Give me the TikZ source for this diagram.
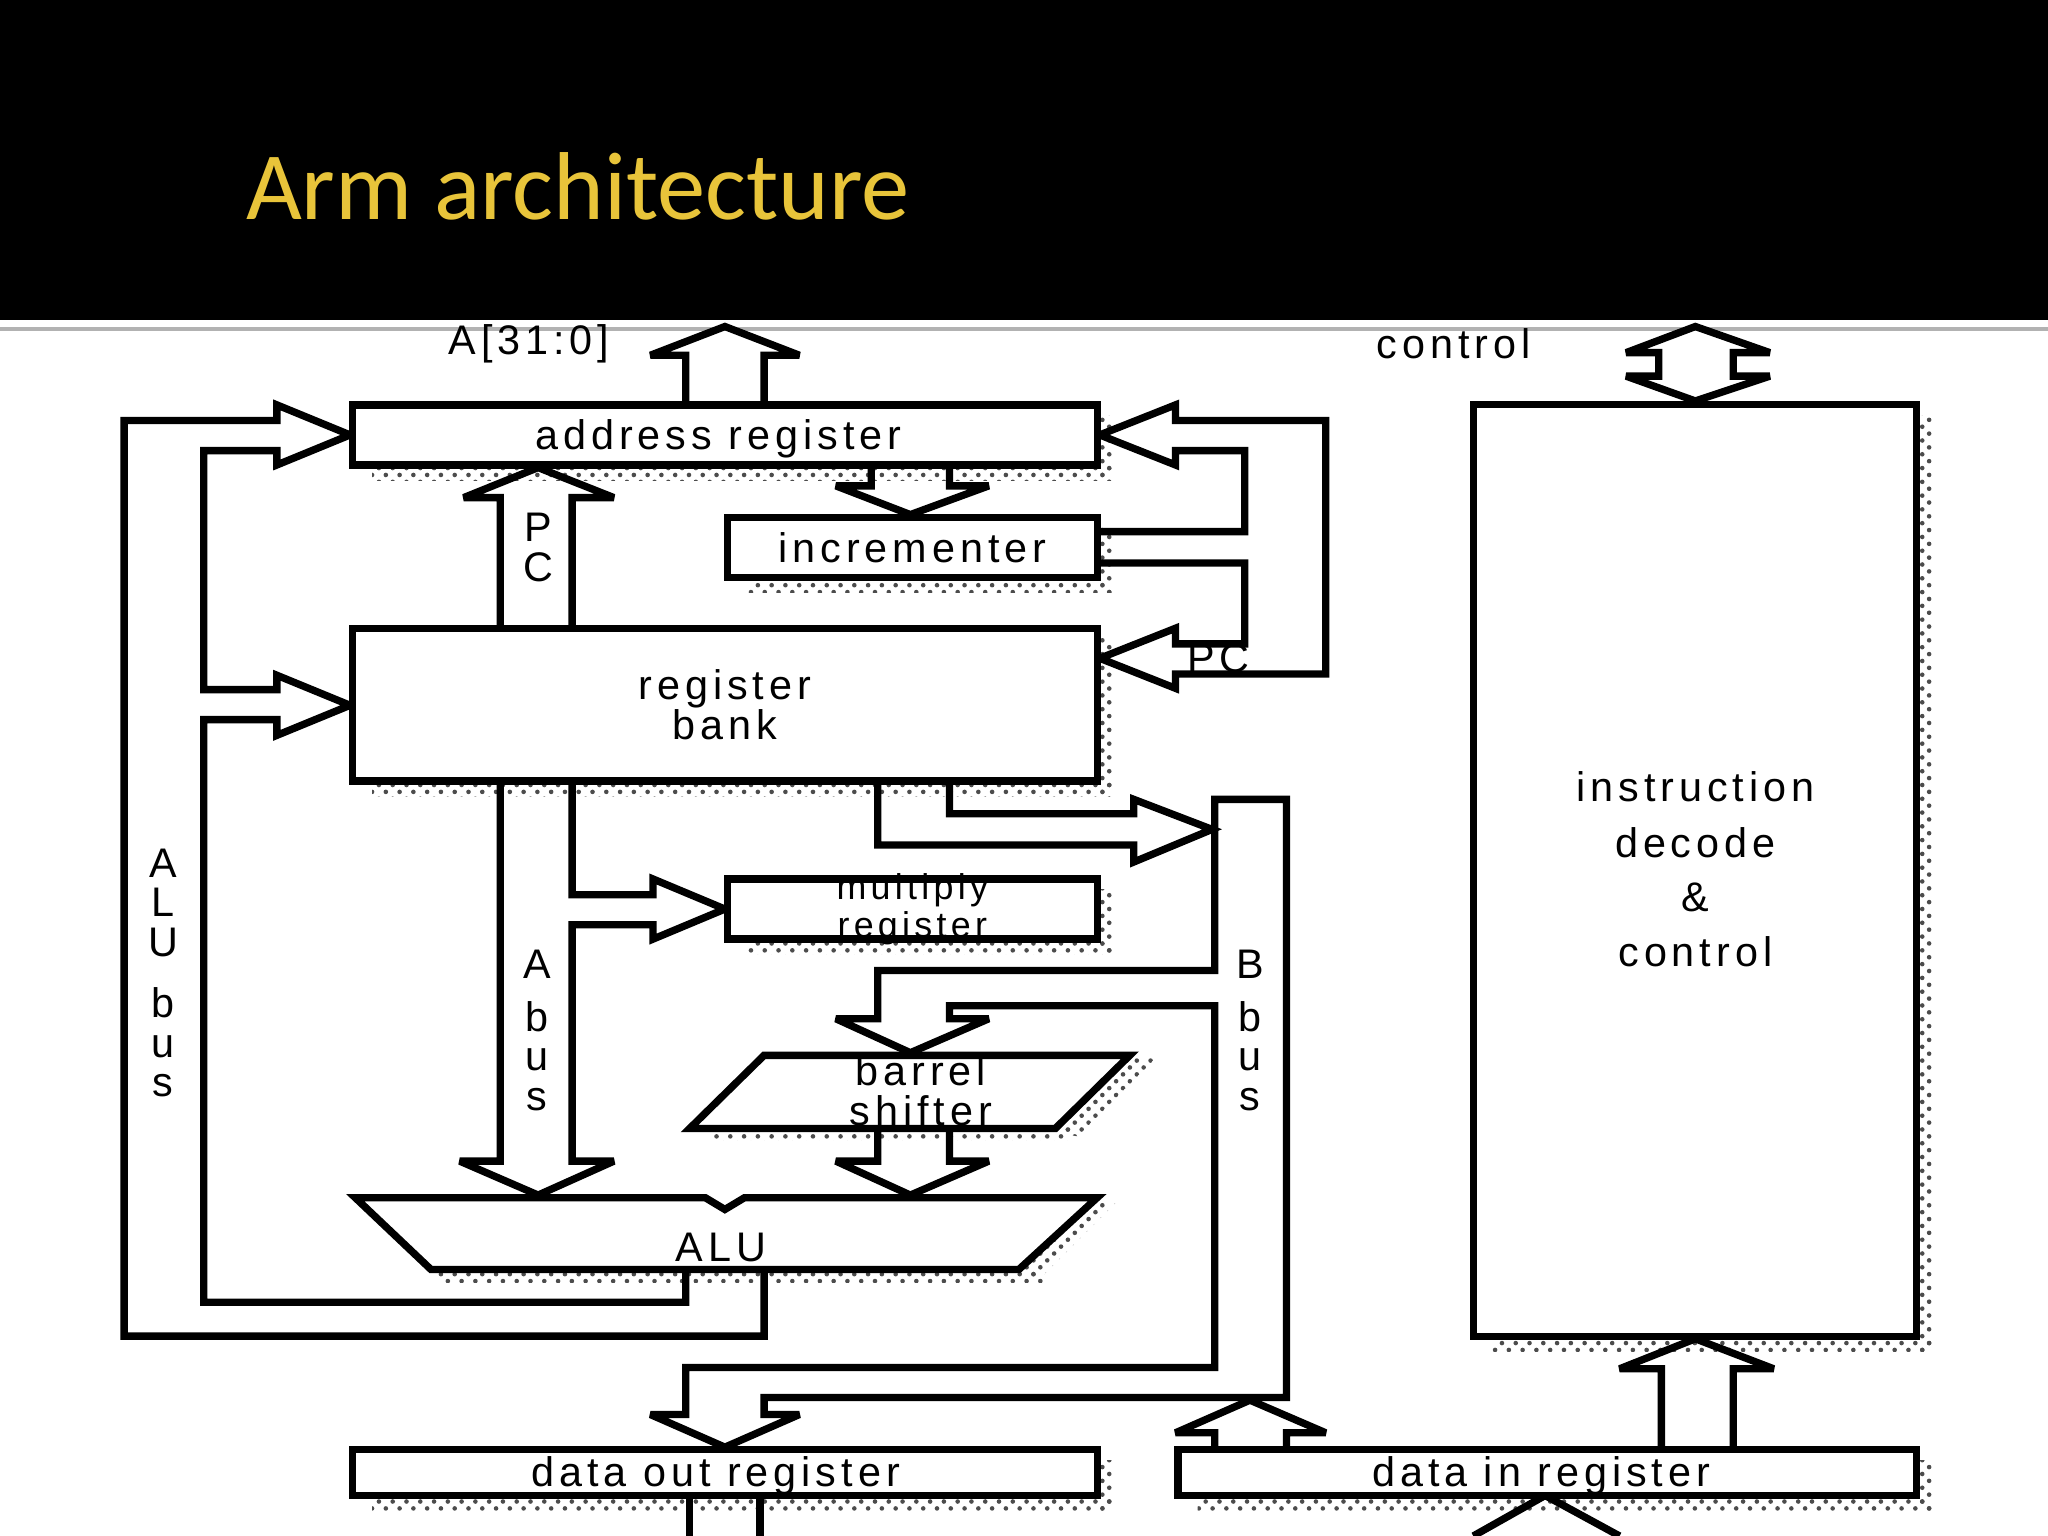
\documentclass[tikz,border=0pt]{standalone}
\usepackage{fontspec}
\setmainfont{Liberation Sans}
\newfontfamily\spaced[LetterSpace=12]{Liberation Sans}
\newfontfamily\titlefont{Carlito}
\usetikzlibrary{patterns}
\definecolor{titlegold}{HTML}{E8C43A}
\tikzset{
  blk/.style={draw=black, line width=1.6pt, fill=white},
  bus/.style={draw=black, line width=1.6pt, line join=miter, miter limit=4},
  lbl/.style={font=\spaced\fontsize{9}{8.6}\selectfont, align=center, inner sep=0pt},
  small/.style={font=\spaced\fontsize{7.8}{7.2}\selectfont}
  ,shd/.style={pattern=crosshatch dots, pattern color=black!70, draw=none}
}
% dotted drop shadow right and below a box
\newcommand{\dropshade}[4]{%
  \fill[shd] (#3+3,#2+8) rectangle (#3+12,#4+12);
  \fill[shd] (#1+15,#4+3) rectangle (#3+12,#4+12);}

\begin{document}
\begin{tikzpicture}[x=0.01cm,y=-0.01cm]
  \useasboundingbox (0,0) rectangle (1568,1176);
  % title bar
  \fill[black] (0,0) rectangle (1568,245);
  \draw[gray!60, line width=1pt] (0,252) -- (1568,252);
  \node[font=\titlefont\fontsize{21}{21}\selectfont, text=titlegold, anchor=west] (title) at (176,143) {Arm architecture};

  % shadows
  \dropshade{270}{310}{840}{356}
  \dropshade{557}{396}{840}{442}
  \dropshade{270}{481}{840}{598}
  \dropshade{557}{673}{840}{719}
  \dropshade{270}{1110}{840}{1145}
  \dropshade{902}{1110}{1467}{1145}
  \dropshade{1128}{310}{1467}{1023}
  \fill[shd] (808,867) -- (868,810) -- (885,810) -- (825,870) -- cycle;
  \fill[shd] (545,864) rectangle (820,873);
  \fill[shd] (780,975) -- (840,920) -- (855,920) -- (795,980) -- cycle;
  \fill[shd] (335,973) rectangle (800,982);

  % buses
  \draw[bus] (525,310) -- (525,272) -- (498,272) -- (555,250) -- (612,272) -- (585,272) -- (585,310);
  \draw[bus] (1270,288) -- (1270,270) -- (1245,270) -- (1298,250) -- (1355,270) -- (1327,270) -- (1327,288)
    -- (1355,288) -- (1298,307) -- (1245,288) -- cycle;
  \draw[bus] (667,356) -- (667,372) -- (640,372) -- (697,394) -- (757,372) -- (727,372) -- (727,356);
  \draw[bus] (383,481) -- (383,381) -- (355,381) -- (412,358) -- (470,381) -- (438,381) -- (438,481);
  \draw[bus] (840,407) -- (953,407) -- (953,345) -- (900,345) -- (900,356) -- (842,333) -- (900,310)
    -- (900,322) -- (1015,322) -- (1015,516) -- (900,516) -- (900,527) -- (842,504) -- (900,481)
    -- (900,493) -- (953,493) -- (953,431) -- (840,431);
  \draw[bus] (525,972) -- (525,997) -- (156,997) -- (156,551) -- (212,551) -- (212,563) -- (268,540)
    -- (212,517) -- (212,528) -- (156,528) -- (156,345) -- (212,345) -- (212,356) -- (268,333)
    -- (212,310) -- (212,322) -- (95,322) -- (95,1023) -- (585,1023) -- (585,972);
  \draw[bus] (383,598) -- (383,889) -- (352,889) -- (412,915) -- (470,889) -- (438,889) -- (438,708)
    -- (500,708) -- (500,719) -- (555,696) -- (500,673) -- (500,685) -- (438,685) -- (438,598);
  \draw[bus] (672,598) -- (672,647) -- (868,647) -- (868,660) -- (928,635) -- (868,612) -- (868,623)
    -- (727,623) -- (727,598);
  \draw[bus] (930,612) -- (985,612) -- (985,1070) -- (585,1070) -- (585,1083) -- (612,1083)
    -- (555,1108) -- (498,1083) -- (525,1083) -- (525,1047) -- (930,1047) -- (930,770) -- (727,770)
    -- (727,780) -- (757,780) -- (697,806) -- (640,780) -- (672,780) -- (672,743) -- (930,743) -- cycle;
  \draw[bus] (672,864) -- (672,889) -- (640,889) -- (697,915) -- (757,889) -- (727,889) -- (727,864);
  \draw[bus] (930,1110) -- (930,1097) -- (900,1097) -- (957,1072) -- (1015,1097) -- (985,1097) -- (985,1110);
  \draw[bus] (1272,1110) -- (1272,1048) -- (1240,1048) -- (1298,1025) -- (1358,1048) -- (1327,1048) -- (1327,1110);
  \draw[bus] (528,1176) -- (528,1145) (582,1145) -- (582,1176);
  \draw[bus] (1128,1176) -- (1183,1145) -- (1240,1176);

  % blocks
  \node[blk, minimum width=5.70cm, minimum height=0.46cm] (addr) at (555,333) {};
  \node[blk, minimum width=2.83cm, minimum height=0.46cm] (inc) at (698.5,419) {};
  \node[blk, minimum width=5.70cm, minimum height=1.17cm] (bank) at (555,539.5) {};
  \node[blk, minimum width=2.83cm, minimum height=0.46cm] (mult) at (698.5,696) {};
  \node[blk, minimum width=5.70cm, minimum height=0.35cm] (dout) at (555,1127.5) {};
  \node[blk, minimum width=5.65cm, minimum height=0.35cm] (din) at (1184.5,1127.5) {};
  \node[blk, minimum width=3.39cm, minimum height=7.13cm] (dec) at (1297.5,666.5) {};
  \draw[blk] (585,808) -- (865,808) -- (808,864) -- (528,864) -- cycle;
  \draw[blk] (272,917) -- (540,917) -- (555,926) -- (570,917) -- (840,917) -- (780,972) -- (330,972) -- cycle;
  \coordinate (shift) at (705,835);
  \coordinate (alu) at (552,955);

  % labels
  \node[lbl] at (550,336) {address register};
  \node[lbl] at (inc) {incrementer};
  \node[lbl] at (bank) {register\\bank};
  \node[lbl, small] at (mult) {multiply\\register};
  \node[lbl] at (shift) {barrel\\shifter};
  \node[lbl] at (alu) {ALU};
  \node[lbl] at (548,1130) {data out register};
  \node[lbl] at (1180,1130) {data in register};
  \node[lbl] at (1298,602) {instruction};
  \node[lbl] at (1298,645) {decode};
  \node[lbl] at (1298,687) {\&};
  \node[lbl] at (1298,729) {control};
  \node[lbl] at (405,263) {A[31:0]};
  \node[lbl] at (1113,263) {control};
  \node[lbl] at (933,504) {PC};
  \node[lbl] at (412,419) {P\\C};
  \node[lbl] at (125,745) {A\\L\\U\\[1ex]b\\u\\s};
  \node[lbl] at (411,789) {A\\[0.6ex]b\\u\\s};
  \node[lbl] at (957,789) {B\\[0.6ex]b\\u\\s};
\end{tikzpicture}
\end{document}
